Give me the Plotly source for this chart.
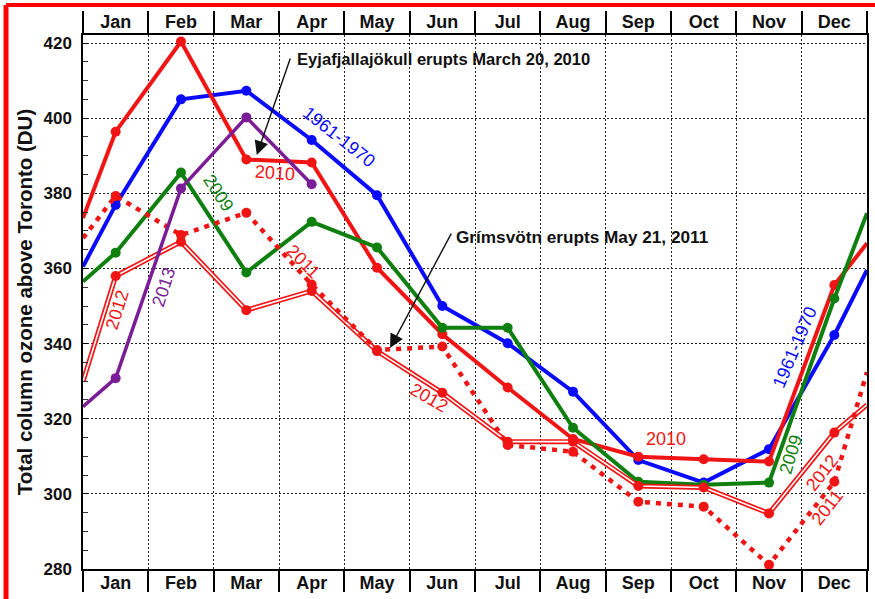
import plotly.graph_objects as go

# ---------------- data ----------------
MONTHS = ["Jan", "Feb", "Mar", "Apr", "May", "Jun", "Jul", "Aug", "Sep", "Oct", "Nov", "Dec"]
MONTH_POS = [i + 0.5 for i in range(12)]

OZONE_1961_1970 = [376.9, 405.0, 407.3, 394.2, 379.5, 350.0, 340.1, 327.2, 309.0, 303.0, 311.9, 342.3]
OZONE_2009 = [364.2, 385.5, 358.9, 372.4, 365.6, 344.2, 344.2, 317.6, 303.2, 302.4, 303.0, 352.0]
OZONE_2010 = [396.4, 420.4, 389.0, 388.2, 360.2, 342.5, 328.3, 314.6, 309.9, 309.2, 308.6, 355.6]
OZONE_2011 = [379.3, 368.9, 374.8, 355.7, 338.3, 339.2, 313.0, 311.2, 297.9, 296.6, 281.1, 303.2]
OZONE_2012 = [358.0, 367.1, 348.9, 354.0, 338.0, 326.9, 313.9, 313.9, 302.1, 301.7, 294.8, 316.3]
OZONE_2013 = [330.8, 381.3, 400.2, 382.4]

# values where each curve meets the left (start of Jan) and right (end of Dec) frame
EDGE_1961_1970 = (360.5, 359.6)
EDGE_2009 = (356.5, 374.7)
EDGE_2010 = (373.4, 366.7)
EDGE_2011 = (368.1, 332.4)
EDGE_2012 = (329.9, 323.7)
EDGE_2013 = (323.2, None)

Y_TICKS = [280, 300, 320, 340, 360, 380, 400, 420]

FONT = "Liberation Sans, Arial, sans-serif"
BLUE = "#0a0aff"
RED = "#f01414"
GREEN = "#0f800f"
PURPLE = "#7a1d96"


def with_edges(vals, edges):
    xs = [0.0] + MONTH_POS[:len(vals)]
    ys = [edges[0]] + list(vals)
    if edges[1] is not None:
        xs.append(12.0)
        ys.append(edges[1])
    return xs, ys


fig = go.Figure()


def add_solid(vals, edges, color, width):
    xs, ys = with_edges(vals, edges)
    fig.add_trace(go.Scatter(x=xs, y=ys, mode="lines", line=dict(color=color, width=width),
                             showlegend=False, hoverinfo="skip"))
    fig.add_trace(go.Scatter(x=MONTH_POS[:len(vals)], y=vals, mode="markers",
                             marker=dict(color=color, size=10), showlegend=False))


add_solid(OZONE_1961_1970, EDGE_1961_1970, BLUE, 4)
add_solid(OZONE_2010, EDGE_2010, RED, 4)
add_solid(OZONE_2009, EDGE_2009, GREEN, 4)

# 2012: double line
xs, ys = with_edges(OZONE_2012, EDGE_2012)
fig.add_trace(go.Scatter(x=xs, y=ys, mode="lines", line=dict(color=RED, width=5),
                         showlegend=False, hoverinfo="skip"))
fig.add_trace(go.Scatter(x=xs, y=ys, mode="lines", line=dict(color="white", width=1.6),
                         showlegend=False, hoverinfo="skip"))
fig.add_trace(go.Scatter(x=MONTH_POS, y=OZONE_2012, mode="markers",
                         marker=dict(color=RED, size=10), showlegend=False))

# 2011: dotted
xs, ys = with_edges(OZONE_2011, EDGE_2011)
fig.add_trace(go.Scatter(x=xs, y=ys, mode="lines", line=dict(color=RED, width=4.5, dash="5px,6px"),
                         showlegend=False, hoverinfo="skip"))
fig.add_trace(go.Scatter(x=MONTH_POS, y=OZONE_2011, mode="markers",
                         marker=dict(color=RED, size=10), showlegend=False))

add_solid(OZONE_2013, EDGE_2013, PURPLE, 3.5)

# dummy trace for the top month axis
fig.add_trace(go.Scatter(x=[0, 12], y=[None, None], xaxis="x2", showlegend=False,
                         hoverinfo="skip", mode="lines"))

GRID_DASH = "2px,2px"
MONTH_TEXT = ["<b>%s</b>" % m for m in MONTHS]
axis_common = dict(
    range=[0, 12], tickmode="array", tickvals=MONTH_POS, ticktext=MONTH_TEXT, ticks="",
    showline=True, linecolor="black", linewidth=1.5, automargin=False,
    tickfont=dict(family=FONT, size=18, color="#111"),
    zeroline=False, showgrid=False,
)

fig.update_layout(
    width=875, height=599,
    margin=dict(l=83, r=8, t=35, b=30),
    paper_bgcolor="white", plot_bgcolor="white",
    font=dict(family=FONT, color="#111"),
    xaxis=dict(**axis_common, ticklabelstandoff=-3,
               minor=dict(tick0=0, dtick=1, ticks="outside", ticklen=21, tickwidth=1.5,
                          tickcolor="black", showgrid=True, gridcolor="#222", gridwidth=1.3,
                          griddash=GRID_DASH)),
    xaxis2=dict(**axis_common, overlaying="x", side="top", ticklabelstandoff=-2,
                minor=dict(tick0=0, dtick=1, ticks="outside", ticklen=22, tickwidth=1.5,
                           tickcolor="black", showgrid=False)),
    yaxis=dict(
        range=[280, 422.13], tickmode="array", tickvals=Y_TICKS,
        ticktext=["<b>%d</b>" % v for v in Y_TICKS],
        ticks="inside", ticklen=5, tickwidth=1.2, tickcolor="black",
        showline=True, linecolor="black", linewidth=1.5, mirror=True, automargin=False,
        showgrid=True, gridcolor="#222", gridwidth=1.3, griddash=GRID_DASH,
        minor=dict(dtick=5, tick0=280, ticks="inside", ticklen=5, tickwidth=1.2, tickcolor="#333"),
        tickfont=dict(family=FONT, size=17, color="#111"),
        ticklabelstandoff=6,
        zeroline=False,
        title=dict(text="<b>Total column ozone above Toronto (DU)</b>",
                   font=dict(family=FONT, size=20.5, color="#111"), standoff=5),
    ),
)


def label(text, x, y, color, angle):
    fig.add_annotation(x=x, y=y, xref="x", yref="y", text=text, showarrow=False,
                       textangle=angle, font=dict(family=FONT, size=18, color=color))


# series labels (positions in data units)
label("1961-1970", 3.92, 395.0, BLUE, 38)
label("1961-1970", 10.90, 339.0, BLUE, -67)
label("2010", 2.94, 385.5, RED, 4)
label("2010", 8.92, 314.5, RED, 0)
label("2009", 2.07, 380.0, GREEN, 57)
label("2009", 10.84, 310.5, GREEN, -73)
label("2013", 1.24, 355.0, PURPLE, -72)
label("2012", 0.52, 349.0, RED, -73)
label("2011", 3.38, 361.8, RED, 45)
label("2012", 5.30, 325.5, RED, 30)
label("2012", 11.31, 305.6, RED, -52)
label("2011", 11.40, 296.4, RED, -52)

# eruption notes
fig.add_annotation(x=3.276, y=415.5, xref="x", yref="y", text="<b>Eyjafjallajökull erupts March 20, 2010</b>",
                   showarrow=False, xanchor="left", xshift=-2, font=dict(family=FONT, size=16.6, color="#111"))
fig.add_annotation(x=5.71, y=368.4, xref="x", yref="y", text="<b>Grímsvötn erupts May 21, 2011</b>",
                   showarrow=False, xanchor="left", xshift=-2, font=dict(family=FONT, size=17.2, color="#111"))
fig.add_annotation(x=2.66, y=390.2, xref="x", yref="y", text="", showarrow=True,
                   ax=34, ay=-98, arrowhead=2, arrowsize=2.0, arrowwidth=1.4, arrowcolor="#111")
fig.add_annotation(x=4.70, y=338.8, xref="x", yref="y", text="", showarrow=True,
                   ax=62, ay=-116, arrowhead=2, arrowsize=2.0, arrowwidth=1.4, arrowcolor="#111")

# red frame around the picture (top and left edges visible)
fig.add_shape(type="line", xref="paper", yref="paper", x0=-0.0982, x1=1.02, y0=1.0562, y1=1.0562,
              line=dict(color="#ff0000", width=4))
fig.add_shape(type="line", xref="paper", yref="paper", x0=-0.0982, x1=-0.0982, y0=1.0562, y1=-0.07,
              line=dict(color="#ff0000", width=5))

fig.write_html("out.html", config={"displayModeBar": False},
               post_script="document.body.style.margin='0px';document.body.style.padding='0px';")
